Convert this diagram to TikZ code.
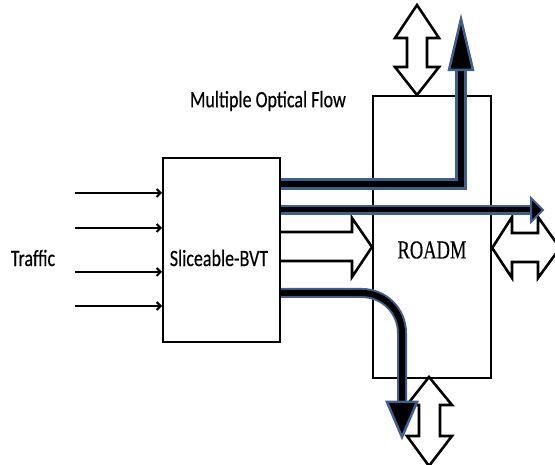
\documentclass[tikz,border=0pt]{standalone}
\usepackage{fontspec}
\usetikzlibrary{arrows.meta}
\setmainfont{Carlito}[FakeBold=0.5]
\newfontfamily\romfont{Liberation Serif}[FakeBold=0.4]
\definecolor{flowblue}{RGB}{62,96,140}
\begin{document}
\begin{tikzpicture}[x=1pt,y=-1pt,
  box/.style={draw=black,line width=2.2pt,fill=none},
  lbl/.style={inner sep=0pt,font=\fontsize{18}{20}\selectfont},
  trafficarrow/.style={draw=black,line width=2pt,-{Straight Barb[length=4pt,width=8pt]}},
  flowouter/.style={draw=flowblue,line width=12pt},
  flowinner/.style={draw=black,line width=6pt},
  flowhead/.style={fill=black,draw=flowblue,line width=2.5pt,line join=miter},
  hollow/.style={draw=black,line width=2.6pt,fill=white,line join=miter}]
\useasboundingbox (0,0) rectangle (555,465);
\path[clip] (0,0) rectangle (555,465);

% boxes
\node[box,minimum width=117pt,minimum height=184pt,anchor=north west] (bvt) at (162,157) {};
\node[box,minimum width=118pt,minimum height=282pt,anchor=north west] (roadm) at (372,95) {};

% labels
\node[lbl] (lbvt) at (219,258) {\scalebox{1}[1.3]{Sliceable-BVT}};
\node[lbl] (ltraffic) at (33,258) {\scalebox{1}[1.3]{Traffic}};
\node[lbl] (lflow) at (268,101) {\scalebox{1}[1.3]{Multiple Optical Flow}};
\node[lbl,font=\romfont\fontsize{18.5}{20}\selectfont] (lroadm) at (432,250) {\scalebox{1}[1.4]{ROADM}};

% traffic input arrows
\foreach \i/\yy in {1/193,2/228,3/272,4/306}{
  \coordinate (t\i) at (75,\yy);
  \draw[trafficarrow] (t\i) -- (t\i -| bvt.west);
}

% hollow block arrow BVT -> ROADM
\draw[hollow] (bvt.east |- 0,232) -- (352,232) -- (352,218) -- (roadm.west |- 0,247)
  -- (352,277) -- (352,261) -- (bvt.east |- 0,261);

% double arrow top
\draw[hollow] (417,5) -- (439,38) -- (427,38) -- (427,67) -- (439,67) -- (roadm.north -| 417,0)
  -- (395,67) -- (407,67) -- (407,38) -- (395,38) -- cycle;
% double arrow right
\draw[hollow] (roadm.east |- 0,248) -- (512,217) -- (512,233) -- (538,233) -- (538,217) -- (560,248)
  -- (538,278) -- (538,262) -- (512,262) -- (512,278) -- cycle;
% double arrow bottom
\draw[hollow] (429,377) -- (452,405) -- (440,405) -- (440,436) -- (452,436) -- (429,466)
  -- (407,436) -- (419,436) -- (419,405) -- (407,405) -- cycle;

% flow 1: up through ROADM top
\coordinate (f1s) at (bvt.east |- 0,184);
\coordinate (f1c) at (461,184);
\coordinate (f1e) at (461,70);
\draw[flowouter] (f1s) -- (f1c) -- (f1e);
\draw[flowinner] (f1s) -- (f1c) -- (f1e);
\draw[flowhead] (461,19) -- (473,70) -- (449,70) -- cycle;

% flow 2: straight through
\coordinate (f2s) at (bvt.east |- 0,210);
\coordinate (f2e) at (532,210);
\draw[flowouter,line width=10pt] (f2s) -- (f2e);
\draw[flowinner,line width=5pt] (f2s) -- (f2e);
\draw[flowhead,line width=2pt] (543,210) -- (531,198) -- (531,222) -- cycle;

% flow 3: curved down
\coordinate (f3s) at (bvt.east |- 0,293);
\coordinate (f3e) at (402,402);
\draw[flowouter,line width=10pt,rounded corners=40pt] (f3s) -| (f3e);
\draw[flowinner,rounded corners=40pt] (f3s) -| (f3e);
\draw[flowhead] (402,437) -- (387,402) -- (417,402) -- cycle;
\end{tikzpicture}
\end{document}
